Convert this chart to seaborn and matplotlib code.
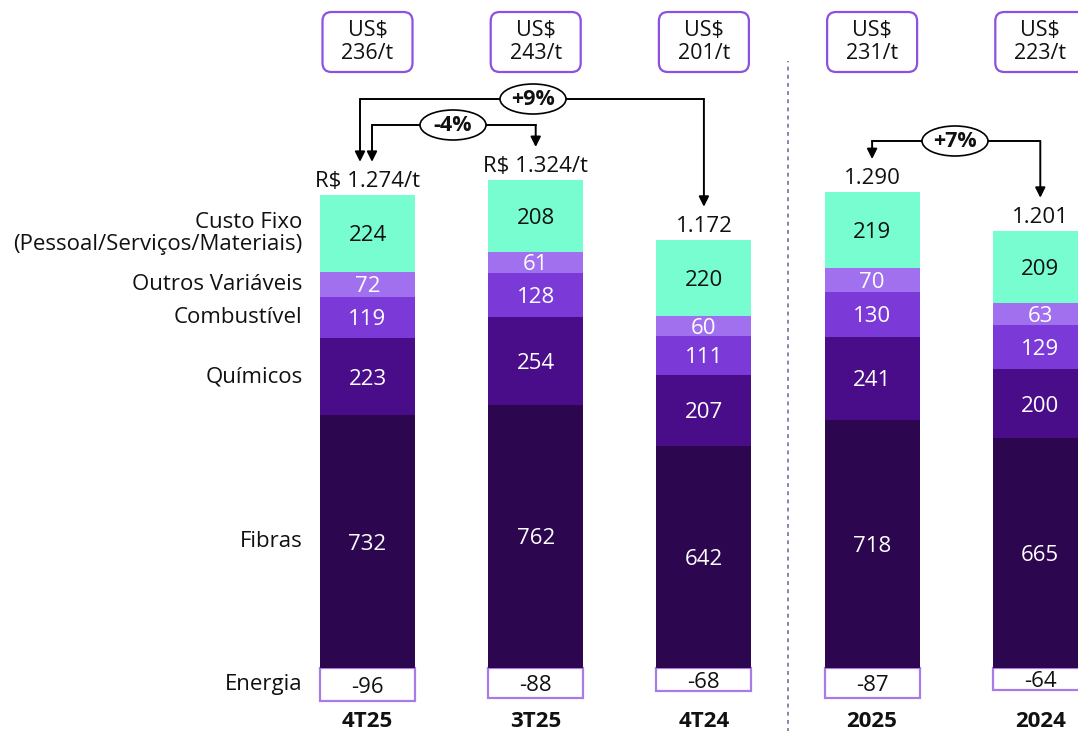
import matplotlib
matplotlib.use("Agg")
import matplotlib.pyplot as plt
from matplotlib.patches import Ellipse, FancyBboxPatch
import numpy as np
import pandas as pd
import seaborn as sns

# ---- data -------------------------------------------------------------
periods = ["4T25", "3T25", "4T24", "2025", "2024"]
fibras = [732, 762, 642, 718, 665]
quimicos = [223, 254, 207, 241, 200]
combustivel = [119, 128, 111, 130, 129]
outros_variaveis = [72, 61, 60, 70, 63]
custo_fixo = [224, 208, 220, 219, 209]
energia = [-96, -88, -68, -87, -64]
totals = [1274, 1324, 1172, 1290, 1201]
total_labels = ["R$ 1.274/t", "R$ 1.324/t", "1.172", "1.290", "1.201"]
usd_labels = ["US$\n236/t", "US$\n243/t", "US$\n201/t", "US$\n231/t", "US$\n223/t"]
segment_names = ["Fibras", "Químicos", "Combustível", "Outros Variáveis",
                 "Custo Fixo\n(Pessoal/Serviços/Materiais)"]
# comparison brackets: (from, to, label)
comparisons = [(0, 2, "+9%"), (0, 1, "-4%"), (3, 4, "+7%")]

layers = [fibras, quimicos, combustivel, outros_variaveis, custo_fixo]
colors = ["#2D0650", "#4A0D8A", "#7B3AD8", "#A070EE", "#78FDD0"]
text_colors = ["white", "white", "white", "white", "#111111"]

sns.set_theme(style="white")
plt.rcParams["font.family"] = ["Open Sans", "DejaVu Sans"]

fig = plt.figure(figsize=(10.78, 7.31), dpi=100)
ax = fig.add_axes([0, 0, 1, 1])

BAR_W = 0.565
PX_X = 168.2          # pixels per category step
PX_Y = 0.3455         # pixels per R$/t
X0 = 367.5            # pixel centre of the first bar
Y0 = 668              # pixel row of the zero line


def py(p):
    """pixel row (from top) -> data value"""
    return (Y0 - p) / PX_Y


df = pd.DataFrame({"period": periods})
cum = np.cumsum(np.array(layers), axis=0)

# energy credit drawn as an outlined box below the baseline
df["energia"] = energia
sns.barplot(data=df, x="period", y="energia", color="white", width=BAR_W,
            edgecolor="#A77BE8", linewidth=1.6, saturation=1, ax=ax, zorder=1)

# stacked cost components: tallest cumulative first so lower layers sit on top
for k in range(len(layers) - 1, -1, -1):
    df["h"] = cum[k]
    sns.barplot(data=df, x="period", y="h", color=colors[k], width=BAR_W,
                saturation=1, linewidth=0, ax=ax, zorder=2)

ax.set_xlim(-X0 / PX_X, (1078 - X0) / PX_X)
ax.set_ylim(py(731), py(0))
ax.axis("off")

FS = 16

# values inside segments
for i in range(len(periods)):
    base = 0
    for k, vals in enumerate(layers):
        ax.text(i, base + vals[i] / 2, f"{vals[i]}", ha="center",
                va="center_baseline", color=text_colors[k], fontsize=FS,
                zorder=5)
        base += vals[i]
    ax.text(i, energia[i] / 2, f"{energia[i]}", ha="center",
            va="center_baseline", color="#111111", fontsize=FS, zorder=5)
    top = cum[-1][i]
    ax.text(i, top + 8 / PX_Y, total_labels[i], ha="center", va="baseline",
            color="#111111", fontsize=FS, zorder=5)
    ax.text(i, py(719), periods[i], ha="center", va="center_baseline",
            color="#111111", fontsize=FS, fontweight="bold", zorder=5)

# row labels next to the first bar
base = 0
for k, vals in enumerate(layers):
    ax.text(-0.385, base + vals[0] / 2, segment_names[k], ha="right",
            va="center", fontsize=FS, color="#111111", linespacing=1.05)
    base += vals[0]
ax.text(-0.385, energia[0] / 2, "Energia", ha="right", va="center",
        fontsize=FS, color="#111111")

# dotted separator between quarters and years
ax.plot([2.5, 2.5], [py(740), py(61)], color="#8C80B8",
        lw=1.4, ls=(0, (2, 2.2)), zorder=1)

# US$ boxes, rounded corners drawn in axes fraction with equal pixel radius
W, H = 1078, 731
for i in range(len(periods)):
    cx = (X0 + i * PX_X) / W
    bw, bh = 90 / W, 60 / H
    cy = 1 - 42 / H
    box = FancyBboxPatch((cx - bw / 2, cy - bh / 2), bw, bh,
                         boxstyle=f"round,pad=0,rounding_size={9 / W}",
                         mutation_aspect=W / H, transform=ax.transAxes,
                         fc="white", ec="#8D50E0", lw=1.6, clip_on=False,
                         zorder=4)
    ax.add_patch(box)
    ax.text(cx, cy, usd_labels[i], transform=ax.transAxes, ha="center",
            va="center", fontsize=FS - 0.5, color="#111111", linespacing=1.1,
            zorder=5)


def arrow_down(x, y0, y1):
    ax.annotate("", xy=(x, y1), xytext=(x, y0),
                arrowprops=dict(arrowstyle="-|>", color="black", lw=1.4,
                                mutation_scale=15, shrinkA=0, shrinkB=0),
                zorder=6)


levels = {(0, 2): 99, (0, 1): 125, (3, 4): 141}
offsets = {(0, 2): (-7.5 / PX_X, 0), (0, 1): (4.5 / PX_X, 0), (3, 4): (0, 0)}
label_x = {(0, 2): 533, (0, 1): 453, (3, 4): 955}
for a, b, lab in comparisons:
    yl = py(levels[(a, b)])
    xa = a + offsets[(a, b)][0]
    xb = b + offsets[(a, b)][1]
    ax.plot([xa, xb], [yl, yl], color="black", lw=1.4, zorder=3)
    arrow_down(xa, yl, cum[-1][a] + 95)
    arrow_down(xb, yl, cum[-1][b] + 95)
    ex = (label_x[(a, b)] - X0) / PX_X
    ax.add_patch(Ellipse((ex, yl), 66 / PX_X, 30 / PX_Y, fc="white",
                         ec="black", lw=1.2, zorder=7))
    ax.text(ex, yl, lab, ha="center", va="center", fontsize=FS - 0.5,
            fontweight="bold", color="#111111", zorder=8)

fig.savefig("out.png", dpi=100)
